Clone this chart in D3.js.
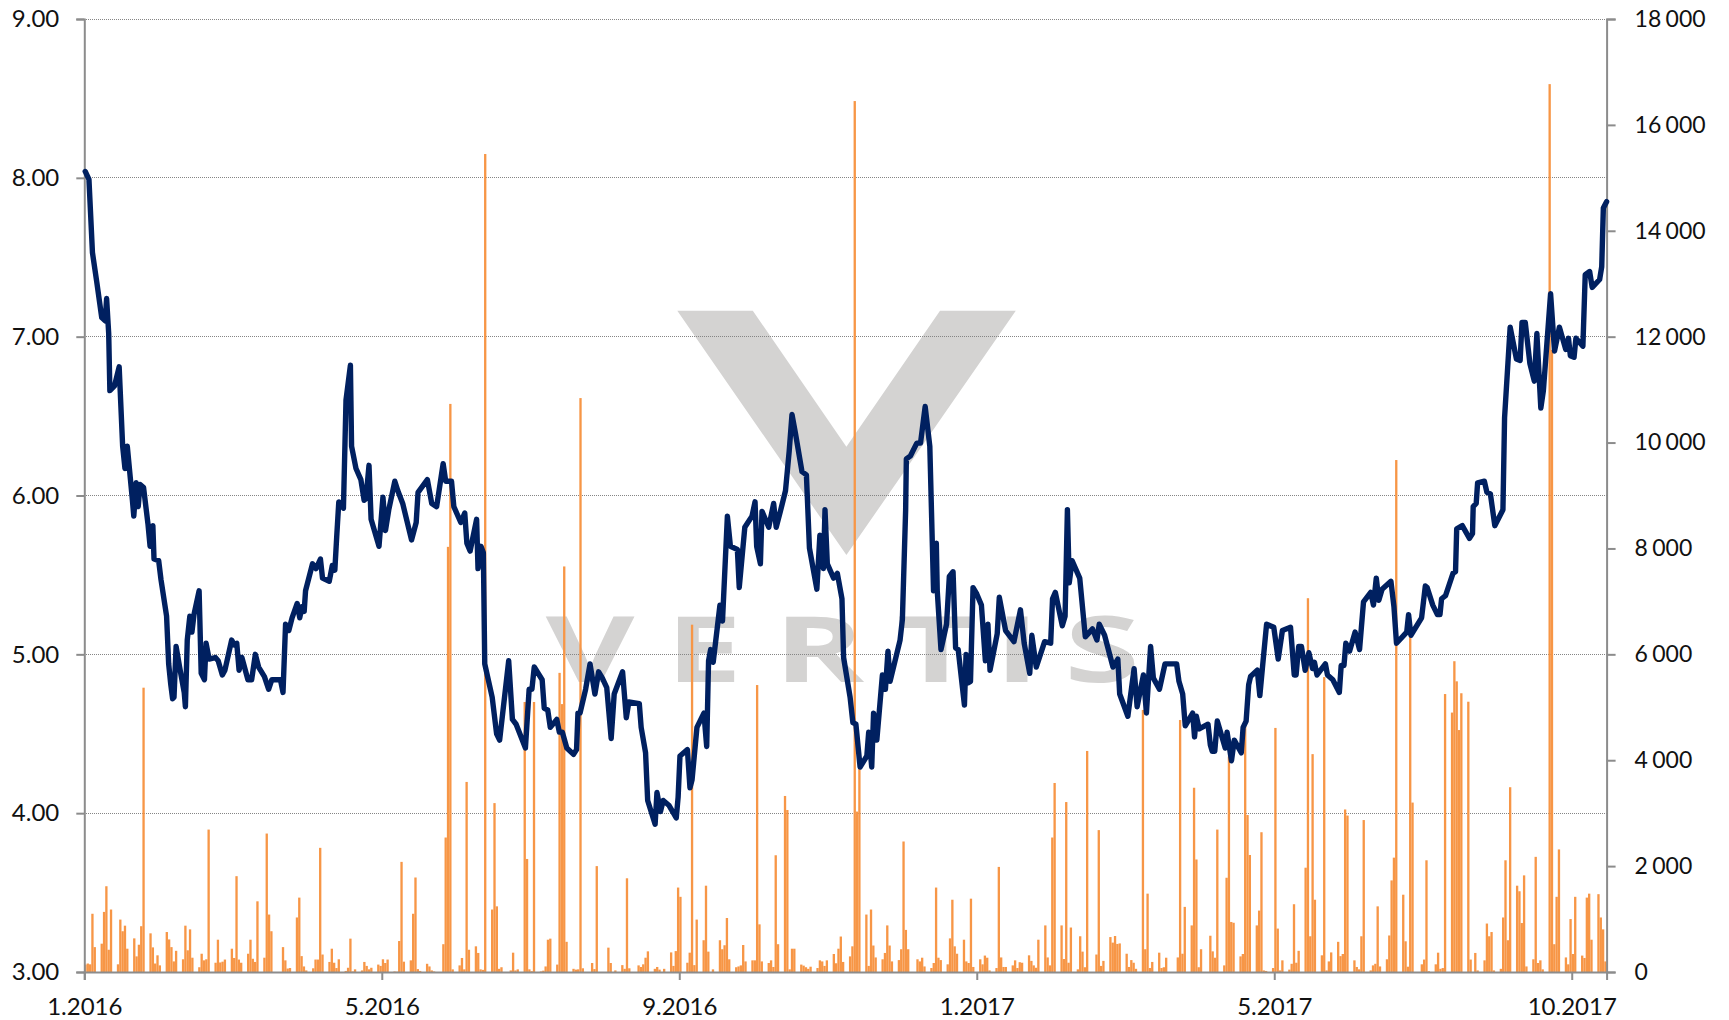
<!DOCTYPE html>
<html><head><meta charset="utf-8">
<script src="https://cdn.jsdelivr.net/npm/d3@7"></script>
<style>
html,body{margin:0;padding:0;background:#fff;overflow:hidden}
svg{display:block}
text{font-family:Lato,"Open Sans",sans-serif;fill:#111}
</style></head><body>
<svg id="chart" width="1729" height="1020"></svg>
<script>
const priceTicks = [3,4,5,6,7,8,9];
const volumeTicks = [0,2000,4000,6000,8000,10000,12000,14000,16000,18000];
const dateTickDays = [0,128,256,384,512,640];
const dateTickLabels = ["1.2016","5.2016","9.2016","1.2017","5.2017","10.2017"];
const totalDays = 655;
const watermarkLetters = ["V","E","R","T","I","S"];
const watermarkCentres = [590,704,819,936,1017,1102];

const lineDays = [0.4,2,3.5,5.4,7.5,9,9.6,10.5,11,13,15,16.5,17.5,18.5,20.7,21.3,22.3,23.2,24,25.5,27.4,28.3,29,29.5,30,32,33,35.4,36.3,37.2,38,38.6,39.5,41,43,43.5,44.3,45.4,46.3,47.2,49.4,50.3,51.7,52.4,53.7,56.4,57.6,59.4,60.5,63.4,64.5,65.6,66.6,67.8,70.4,72,73.6,75,77.5,79.3,80.7,84.4,85.5,86.6,88,89.4,91.6,92.7,93.6,94.6,95.2,98.2,99.7,101.6,102.5,105.4,106.7,107.8,108.6,109.5,111.5,112.6,114.5,115,116.9,119,120.4,121.2,122.5,123.4,126.8,128.5,129.6,131,133.6,134.9,137,140.8,142.8,143.6,147.6,149.5,151.6,154.4,155.5,158,159,162,163.7,164.6,166,168.8,169.4,170.7,171.7,172.3,175.5,177.4,178.7,182.6,184.2,185.8,189.8,191.4,192.6,193.6,197,197.9,199.4,200.5,203.3,204.4,205.7,207.6,210.5,211.8,212.4,213.3,215.7,217.6,219.7,221.3,222.9,224.8,226.7,228,231.6,233.2,234.3,238.8,239.6,241.5,242.4,245.6,246.4,247.9,249.1,251.5,254.7,255.5,256.3,259.5,260.6,261.5,263.6,266.6,267.8,268.6,269.5,270.6,273.5,274.6,276.7,278,281,281.8,284.2,287.3,288.6,289.3,290.9,291.6,294.5,296.6,297.7,299.5,301.7,303.3,304.5,306,308.8,310.7,312,315.2,316.5,318,318.7,319.7,322.4,324,326,326.7,329.5,330.7,332,333.8,336.7,337.5,338.8,339.6,341,343.4,344.7,345.8,346.7,351,352,353.4,353.7,355.5,358.2,359.8,361.8,363.8,365.4,366.6,367,368.6,371,372.2,373.8,374.9,376,378.7,379.4,380.2,381.3,382.4,384,386,387.7,388.8,389.7,392.8,393.7,396.4,400,402.8,404.4,406.8,407.7,409.6,413.2,415.8,416.6,417.8,420.8,422,423,423.8,425,428.3,430.7,433.8,435.7,436.7,439,442.6,444.7,445.5,449,451.7,453,455.7,457,458.8,460,462.6,465,470,471,472.6,473.7,476.9,477.7,478.5,479.7,483.5,484.5,485.3,486.4,487.5,490.9,491.7,493.6,494.8,497.8,498.6,499.9,501,501.8,504.7,505.8,507.2,508.7,511.8,513.7,515.5,519,520.6,521.4,522.5,523.7,525.3,526.9,528.5,529.3,530.4,534,534.9,537.2,540,540.8,542,542.8,544.4,546.8,548.7,550.4,553.5,554.7,555.9,557,558.4,562.2,563.5,564.6,569,569.8,570.8,575.4,577,577.8,580.2,582.2,583.3,584,585.7,588.9,590,590.5,592.9,596,597.3,597.6,598.9,599.5,602.4,603.5,605,606.9,610.4,611.1,613.5,616.2,617.8,618.6,620,622,623.9,625,626.7,627.8,630.9,632.6,634.7,637.4,638.6,639.4,641,641.8,644.8,645.8,647.7,648.8,652,652.9,653.6,655];
const linePrices = [8.04,7.99,7.53,7.34,7.12,7.10,7.24,7.02,6.66,6.69,6.81,6.31,6.17,6.31,5.97,5.87,6.08,5.93,6.07,6.05,5.82,5.68,5.69,5.81,5.60,5.59,5.47,5.24,4.94,4.81,4.72,4.73,5.05,4.92,4.76,4.67,5.09,5.24,5.14,5.25,5.40,4.88,4.84,5.07,4.97,4.98,4.96,4.87,4.90,5.09,5.06,5.07,4.90,4.98,4.84,4.84,5.00,4.92,4.86,4.78,4.84,4.84,4.76,5.19,5.15,5.23,5.32,5.23,5.30,5.27,5.40,5.57,5.54,5.60,5.48,5.46,5.56,5.53,5.74,5.96,5.92,6.60,6.82,6.31,6.17,6.10,5.97,5.98,6.19,5.85,5.68,5.99,5.78,5.91,6.09,6.03,5.95,5.72,5.83,6.02,6.10,5.95,5.93,6.20,6.09,6.09,5.93,5.83,5.89,5.70,5.65,5.85,5.54,5.68,5.64,4.94,4.73,4.50,4.46,4.96,4.59,4.56,4.41,4.78,4.78,4.92,4.84,4.66,4.65,4.54,4.59,4.51,4.51,4.41,4.37,4.40,4.63,4.63,4.78,4.94,4.75,4.89,4.85,4.79,4.47,4.75,4.89,4.60,4.70,4.69,4.54,4.38,4.08,3.93,4.13,4.01,4.08,4.05,3.97,4.10,4.36,4.40,4.16,4.21,4.54,4.63,4.42,4.96,5.03,4.95,5.31,5.21,5.87,5.68,5.66,5.42,5.80,5.87,5.96,5.68,5.57,5.90,5.80,5.95,5.80,5.90,6.03,6.28,6.51,6.39,6.15,6.13,5.67,5.41,5.75,5.54,5.91,5.57,5.48,5.51,5.35,4.98,4.73,4.57,4.56,4.29,4.36,4.51,4.29,4.63,4.46,4.87,4.78,5.02,4.83,5.09,5.22,5.91,6.23,6.25,6.33,6.33,6.56,6.31,5.40,5.70,5.40,5.03,5.19,5.49,5.52,5.04,5.03,4.68,5.00,4.82,4.83,5.42,5.38,5.31,4.96,5.19,4.90,5.13,5.36,5.15,5.08,5.28,5.07,4.88,5.12,4.92,5.08,5.07,5.35,5.39,5.18,5.24,5.91,5.45,5.59,5.48,5.11,5.16,5.09,5.19,5.12,4.92,4.97,4.75,4.61,4.91,4.67,4.87,4.63,5.05,4.85,4.78,4.94,4.94,4.83,4.75,4.55,4.63,4.48,4.61,4.53,4.56,4.43,4.39,4.39,4.58,4.41,4.51,4.33,4.46,4.38,4.54,4.58,4.81,4.86,4.90,4.74,4.96,5.19,5.17,4.97,5.15,5.17,4.87,4.87,5.05,5.05,4.90,5.01,4.91,4.95,4.87,4.94,4.87,4.84,4.76,4.93,4.93,5.07,5.02,5.14,5.03,5.33,5.39,5.31,5.48,5.34,5.41,5.46,5.30,5.07,5.14,5.25,5.12,5.23,5.43,5.42,5.31,5.25,5.25,5.35,5.37,5.51,5.52,5.79,5.81,5.73,5.76,5.93,5.95,6.08,6.09,6.02,6.01,5.81,5.91,6.49,7.06,6.86,6.85,7.09,7.09,6.83,6.72,7.02,6.55,6.66,7.27,6.91,7.06,6.92,6.99,6.88,6.87,6.99,6.94,7.39,7.41,7.31,7.36,7.44,7.81,7.85];

// five weekday volumes per week, week after week, from the first week of 2016
const volumeWeeks = [
[140,160,145,1100,470],[535,1135,1620,420,1180],[145,990,770,875,440],[635,295,515,865,5370],[730,465,160,315,125],[755,615,470,200,400],[240,875,410,805,270],[90,345,220,240,2690],[175,610,180,195,235],[440,265,1810,235,175],
[345,610,250,190,1335],[270,2615,1085,770,0],[0,470,220,65,75],[1030,1405,300,105,30],[70,235,235,2345,330],[190,440,175,75,240],[20,80,630,10,50],[30,190,115,50,80],[140,115,240,170,235],[10,5,585,2080,195],
[220,1100,1785,55,20],[155,105,30,10,0],[525,2540,8030,10730,50],[125,265,50,3590,420],[485,360,50,40,15450],[1180,3190,1240,60,90],[0,30,365,30,50],[5100,2135,50,15,5100],[10,25,105,610,630],[140,5650,5060,7660,570],
[60,45,50,10840,70],[0,170,55,2000,0],[0,460,170,0,30],[130,60,1770,70,0],[125,95,145,270,390],[60,95,45,0,60],[370,115,395,1595,1420],[175,365,6560,130,990],[600,1630,385,0,50],[600,430,505,1020,240],
[90,105,125,510,200],[220,220,5420,900,200],[170,220,95,2205,525],[3325,3060,50,440,440],[140,120,90,60,100],[75,220,200,115,220],[340,165,440,670,190],[295,485,16450,3030,3870],[1085,115,1180,500,275],[240,360,880,500,200],
[225,430,2465,795,430],[0,240,200,270,105],[75,170,1595,270,225],[145,635,1365,485,345],[610,200,170,1385,95],[240,145,310,270,30],[75,1985,275,95,95],[125,220,75,185,175],[315,210,125,80,610],[880,275,125,2540,3570],
[880,245,3210,175,840],[50,675,385,90,4175],[0,330,2680,115,210],[660,555,680,530,540],[345,95,225,175,60],[4950,430,1480,75,190],[365,75,90,270,0],[0,275,4760,345,1230],[880,3480,2125,90,430],[0,685,390,270,2690],
[125,1780,4070,945,930],[295,340,4640,2965,2210],[880,1160,2640,30,20],[75,4610,820,30,220],[45,155,1280,175,400],[1970,7060,675,4115,1365],[315,5570,30,200,370],[570,300,340,3070,2955],[220,95,50,675,2870],[30,125,155,1240,105],
[240,690,1730,2160,9670],[1460,580,100,6400,3200],[0,145,235,2110,15],[145,365,60,75,5250],[4900,5870,5490,4570,5265],[5105,235,0,360,30],[220,915,675,755,30],[60,1030,2110,600,3490],[1630,1525,925,1825,105],[240,2175,170,220,50],
[16770,11750,525,1420,2315],[275,145,1000,340,1420],[310,265,1405,1480,610],[1470,1030,805,200]
];

const plot = {left:84.3, right:1606.6, top:19, bottom:972};
const svg = d3.select("#chart");

const x = d3.scaleLinear().domain([0,totalDays]).range([plot.left,plot.right]);
const yPrice = d3.scaleLinear().domain([3,9]).range([plot.bottom,plot.top]);
const yVolume = d3.scaleLinear().domain([0,18000]).range([plot.bottom,plot.top]);

const axisColor = "#8c8c8c", watermark = "#d4d3d2";

// watermark logo
const wm = svg.append("g");
const vPath = d3.path();
vPath.moveTo(677.3,310.7); vPath.lineTo(752.8,310.7); vPath.lineTo(846.4,446.7);
vPath.lineTo(940,310.7); vPath.lineTo(1015.8,310.7); vPath.lineTo(846.4,555); vPath.closePath();
wm.append("path").attr("d",vPath.toString()).attr("fill",watermark);
wm.selectAll("text").data(watermarkLetters).join("text")
  .attr("transform",(d,i)=>`translate(${watermarkCentres[i]},682) scale(1.5,1)`).attr("text-anchor","middle")
  .style("font-family","'Open Sans',sans-serif").style("font-weight",700).style("font-size","91px")
  .style("fill",watermark).text(d=>d);

// gridlines
svg.append("g").selectAll("line").data(priceTicks.filter(d=>d>3)).join("line")
  .attr("x1",plot.left).attr("x2",plot.right).attr("y1",d=>yPrice(d)).attr("y2",d=>yPrice(d))
  .attr("stroke","#858585").attr("stroke-width",1).attr("stroke-dasharray","1 1").attr("shape-rendering","crispEdges");

// volume bars
const bars = [];
volumeWeeks.forEach((week,w)=>week.forEach((v,i)=>{ if(v>0) bars.push({day:w*7+i,v}); }));
svg.append("g").selectAll("rect").data(bars).join("rect")
  .attr("x",d=>x(d.day)).attr("width",x(1)-x(0))
  .attr("y",d=>yVolume(d.v)).attr("height",d=>yVolume(0)-yVolume(d.v))
  .attr("fill","#f79646");

// axes
const fmtVol = d3.formatLocale({decimal:".",thousands:"\u2009\u200a",grouping:[3],currency:["",""]}).format(",d");
function styleAxis(g,size){
  g.selectAll(".domain,.tick line").attr("stroke",axisColor).attr("stroke-width",2);
  g.selectAll("text").style("font-size",size+"px").style("font-family","Lato,sans-serif").attr("fill","#111");
}
svg.append("g").attr("transform",`translate(${plot.left},0)`)
  .call(d3.axisLeft(yPrice).tickValues(priceTicks).tickFormat(d3.format(".2f")).tickSize(8).tickPadding(17))
  .call(styleAxis,24);
svg.append("g").attr("transform",`translate(${plot.right},0)`)
  .call(d3.axisRight(yVolume).tickValues(volumeTicks).tickFormat(fmtVol).tickSize(9).tickPadding(19))
  .call(styleAxis,23);
svg.append("g").attr("transform",`translate(0,${plot.bottom})`)
  .call(d3.axisBottom(x).tickValues(dateTickDays).tickFormat((d,i)=>dateTickLabels[i]).tickSize(8).tickPadding(18))
  .call(styleAxis,24);

// price line
const line = d3.line().x((d,i)=>x(lineDays[i])).y(d=>yPrice(d));
svg.append("path").datum(linePrices).attr("d",line)
  .attr("fill","none").attr("stroke","#002060").attr("stroke-width",5.4)
  .attr("stroke-linejoin","round").attr("stroke-linecap","round");
</script>
</body></html>
